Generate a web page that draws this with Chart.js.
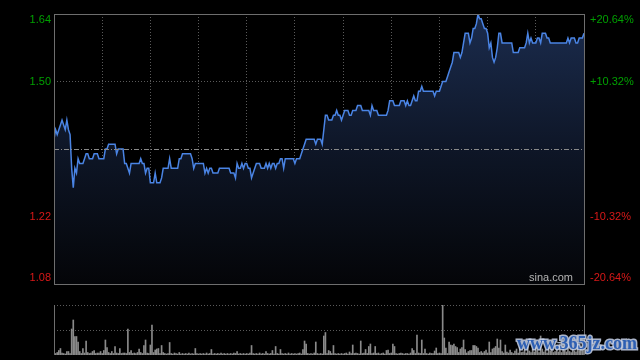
<!DOCTYPE html>
<html><head><meta charset="utf-8">
<script src="https://cdn.jsdelivr.net/npm/chart.js@4.4.1/dist/chart.umd.min.js"></script>
<style>
html,body{margin:0;padding:0;background:#000;width:640px;height:360px;overflow:hidden}
#main{position:absolute;left:0;top:0}
#vol{position:absolute;left:0;top:292px}
</style></head><body>
<canvas id="main" width="640" height="292"></canvas>
<canvas id="vol" width="640" height="68"></canvas>
<script>
// intraday price per minute (HK session 09:30-12:00, 13:00-16:00)
const prices = [
1.38,1.40,1.39,1.40,1.41,1.42,1.41,1.40,1.42,1.40,
1.39,1.32,1.28,1.32,1.31,1.34,1.33,1.33,1.33,1.34,
1.35,1.35,1.34,1.34,1.34,1.35,1.35,1.35,1.34,1.34,
1.34,1.34,1.36,1.36,1.37,1.37,1.37,1.37,1.37,1.35,
1.36,1.36,1.36,1.36,1.33,1.33,1.32,1.31,1.33,1.33,
1.33,1.33,1.33,1.33,1.34,1.33,1.33,1.31,1.32,1.32,
1.29,1.29,1.29,1.31,1.29,1.29,1.29,1.30,1.32,1.32,
1.32,1.32,1.34,1.32,1.32,1.32,1.32,1.32,1.34,1.34,
1.35,1.35,1.35,1.35,1.35,1.35,1.34,1.32,1.33,1.33,
1.33,1.33,1.33,1.33,1.31,1.32,1.31,1.32,1.32,1.31,
1.31,1.31,1.31,1.32,1.32,1.32,1.32,1.32,1.32,1.32,
1.31,1.31,1.31,1.30,1.33,1.32,1.32,1.33,1.32,1.33,
1.33,1.32,1.32,1.30,1.31,1.32,1.33,1.33,1.33,1.32,
1.32,1.32,1.33,1.32,1.33,1.32,1.33,1.33,1.32,1.33,
1.33,1.34,1.34,1.32,1.34,1.34,1.34,1.34,1.34,1.34,
1.33,1.34,1.34,1.34,1.35,1.36,1.37,1.38,1.38,1.38,
1.38,1.38,1.38,1.37,1.38,1.38,1.38,1.37,1.40,1.43,
1.43,1.42,1.42,1.42,1.43,1.43,1.44,1.43,1.43,1.42,
1.43,1.44,1.44,1.44,1.43,1.43,1.44,1.44,1.44,1.45,
1.45,1.45,1.44,1.44,1.44,1.44,1.44,1.43,1.45,1.44,
1.44,1.44,1.43,1.43,1.43,1.43,1.43,1.43,1.44,1.46,
1.46,1.46,1.45,1.45,1.45,1.45,1.46,1.46,1.46,1.45,
1.46,1.45,1.45,1.46,1.47,1.46,1.46,1.48,1.48,1.49,
1.48,1.48,1.48,1.48,1.48,1.48,1.48,1.47,1.48,1.48,
1.48,1.49,1.50,1.50,1.50,1.51,1.52,1.53,1.54,1.56,
1.56,1.56,1.56,1.55,1.56,1.58,1.60,1.60,1.60,1.58,
1.59,1.61,1.61,1.62,1.64,1.63,1.63,1.62,1.61,1.61,
1.60,1.57,1.58,1.55,1.54,1.55,1.57,1.60,1.60,1.58,
1.58,1.58,1.58,1.58,1.58,1.58,1.56,1.56,1.56,1.56,
1.57,1.57,1.57,1.57,1.58,1.60,1.58,1.59,1.58,1.58,
1.58,1.59,1.59,1.58,1.60,1.60,1.60,1.59,1.59,1.58,
1.58,1.58,1.58,1.58,1.58,1.58,1.58,1.58,1.58,1.58,
1.59,1.58,1.59,1.59,1.59,1.58,1.58,1.59,1.59,1.59,
1.60
];
// volume per minute (relative units, pane top = 100)
const volumes = [
19,3,5,9,13,4,3,2,7,7,
3,52,70,37,37,26,7,3,13,4,
28,5,3,4,7,9,3,4,4,7,
3,9,30,15,5,3,7,3,17,4,
3,13,3,4,4,3,52,5,9,3,
4,3,5,12,5,3,19,30,4,3,
20,60,5,10,12,13,3,19,5,3,
2,3,25,3,2,4,3,2,5,2,
3,2,3,2,4,2,3,2,13,3,
2,3,2,3,2,4,2,3,11,2,
3,2,3,2,4,2,3,2,3,2,
3,2,4,3,7,2,3,2,3,2,
3,2,4,19,3,2,3,2,4,2,
3,2,7,3,2,3,9,2,17,3,
2,11,3,2,3,2,4,2,3,2,
3,2,3,4,2,11,28,22,3,2,
3,2,4,26,3,2,3,2,38,45,
3,9,7,3,19,3,2,3,2,3,
2,3,4,2,6,3,20,3,4,3,
2,28,3,4,11,3,17,22,3,4,
17,3,4,2,3,4,2,9,10,3,
4,22,17,3,2,3,4,3,2,3,
3,2,4,13,9,3,40,4,3,30,
3,12,3,2,4,3,3,8,14,3,
4,3,100,34,14,3,26,20,19,22,
17,15,5,12,15,30,11,4,7,9,
9,19,19,17,14,5,7,4,7,10,
4,26,5,12,14,17,32,14,30,7,
4,20,6,4,10,5,3,8,12,4,
15,5,6,10,4,22,8,5,12,6,
20,9,5,38,12,6,10,4,18,8,
12,5,7,14,6,10,5,22,9,6,
18,7,5,12,8,6,14,9,16,10,
24
];
const priceTicks = [1.64, 1.50, 1.22, 1.08];
const priceLabels = ['1.64', '1.50', '1.22', '1.08'];
const pctLabels = ['+20.64%', '+10.32%', '-10.32%', '-20.64%'];
const gridPrices = [1.22, 1.50];
const prevClose = 1.36;
const timeGrid = [30, 60, 90, 120, 150, 180, 210, 240, 270, 300];
const volGrid = [50, 100];
const minutes = prices.map((_, i) => i);

const GREEN = '#00a000', RED = '#d81818', FRAME = '#6e6e6e', GRID = '#5a5a5a';

const mainPlugin = {
  id: 'mainDeco',
  afterDraw(chart) {
    const c = chart.ctx, a = chart.chartArea, ys = chart.scales.y;
    c.save();
    // previous close dash-dot line
    const py = Math.round(ys.getPixelForValue(prevClose)) + 0.5;
    c.strokeStyle = '#8a8a8a'; c.lineWidth = 1; c.setLineDash([5, 2, 1, 2]);
    c.beginPath(); c.moveTo(a.left, py); c.lineTo(a.right, py); c.stroke();
    c.setLineDash([]);
    // frame
    c.strokeStyle = FRAME;
    c.strokeRect(Math.round(a.left) + 0.5, Math.round(a.top) + 0.5, Math.round(a.right - a.left), Math.round(a.bottom - a.top));
    // labels
    c.font = '11px "Liberation Sans", Arial, sans-serif';
    c.textBaseline = 'middle';
    priceTicks.forEach((v, i) => {
      let y = ys.getPixelForValue(v);
      if (i === 0) y += 6;
      if (i === priceTicks.length - 1) y -= 6;
      c.fillStyle = v > prevClose ? GREEN : RED;
      c.textAlign = 'right';
      c.fillText(priceLabels[i], a.left - 3, y);
      c.textAlign = 'left';
      c.fillText(pctLabels[i], a.right + 6, y);
    });
    c.fillStyle = '#b4b4b4';
    c.textAlign = 'right';
    c.font = '11px "Liberation Sans", Arial, sans-serif';
    c.fillText('sina.com', a.right - 11, a.bottom - 6);
    c.restore();
  }
};

new Chart(document.getElementById('main'), {
  type: 'line',
  data: {
    labels: minutes,
    datasets: [{
      data: prices,
      borderColor: '#4a84e4',
      borderWidth: 1.5,
      pointRadius: 0,
      tension: 0,
      fill: 'start',
      backgroundColor: (ctx) => {
        const ch = ctx.chart, a = ch.chartArea;
        if (!a) return 'rgba(0,0,0,0)';
        const g = ch.ctx.createLinearGradient(0, a.top, 0, a.bottom);
        g.addColorStop(0, '#1b2c4e');
        g.addColorStop(0.5, '#0e1627');
        g.addColorStop(1, '#040508');
        return g;
      }
    }]
  },
  options: {
    responsive: false, animation: false, devicePixelRatio: 1,
    layout: { padding: { left: 54, right: 56, top: 14, bottom: 8 } },
    plugins: { legend: { display: false }, tooltip: { enabled: false } },
    scales: {
      x: {
        type: 'linear', min: 0, max: 330, z: 1,
        afterBuildTicks: (s) => { s.ticks = timeGrid.map(v => ({ value: v })); },
        ticks: { display: false },
        grid: { color: GRID, drawTicks: false, lineWidth: 1 },
        border: { display: false, dash: [1, 2] }
      },
      y: {
        min: 1.08, max: 1.64, z: 1,
        afterBuildTicks: (s) => { s.ticks = gridPrices.map(v => ({ value: v })); },
        ticks: { display: false },
        grid: { color: GRID, drawTicks: false, lineWidth: 1 },
        border: { display: false, dash: [1, 2] }
      }
    }
  },
  plugins: [mainPlugin]
});

const volPlugin = {
  id: 'volDeco',
  afterDraw(chart) {
    const c = chart.ctx, a = chart.chartArea;
    c.save();
    c.strokeStyle = FRAME; c.lineWidth = 1;
    c.beginPath();
    c.moveTo(Math.round(a.left) + 0.5, a.top); c.lineTo(Math.round(a.left) + 0.5, a.bottom);
    c.moveTo(Math.round(a.right) + 0.5, a.top); c.lineTo(Math.round(a.right) + 0.5, a.bottom);
    c.stroke();
    // site watermark
    c.font = 'bold 18px "Liberation Serif", "DejaVu Serif", serif';
    c.textAlign = 'left'; c.textBaseline = 'alphabetic';
    c.lineWidth = 3; c.strokeStyle = 'rgba(200,212,236,0.85)';
    c.strokeText('www.365jz.com', 517, 57);
    c.fillStyle = '#2d5fb3';
    c.fillText('www.365jz.com', 517, 57);
    c.restore();
  }
};

new Chart(document.getElementById('vol'), {
  type: 'bar',
  data: {
    labels: minutes,
    datasets: [{
      data: volumes,
      backgroundColor: '#8a8a8a',
      barThickness: 1,
      borderWidth: 0
    }]
  },
  options: {
    responsive: false, animation: false, devicePixelRatio: 1,
    layout: { padding: { left: 54, right: 56, top: 13, bottom: 5 } },
    plugins: { legend: { display: false }, tooltip: { enabled: false } },
    scales: {
      x: {
        type: 'linear', min: 0, max: 330, offset: false,
        display: false,
        grid: { display: false }
      },
      y: {
        min: 0, max: 100, z: 1,
        afterBuildTicks: (s) => { s.ticks = volGrid.map(v => ({ value: v })); },
        ticks: { display: false },
        grid: { color: GRID, drawTicks: false, lineWidth: 1 },
        border: { display: false, dash: [1, 2] }
      }
    }
  },
  plugins: [volPlugin]
});
</script>
</body></html>
